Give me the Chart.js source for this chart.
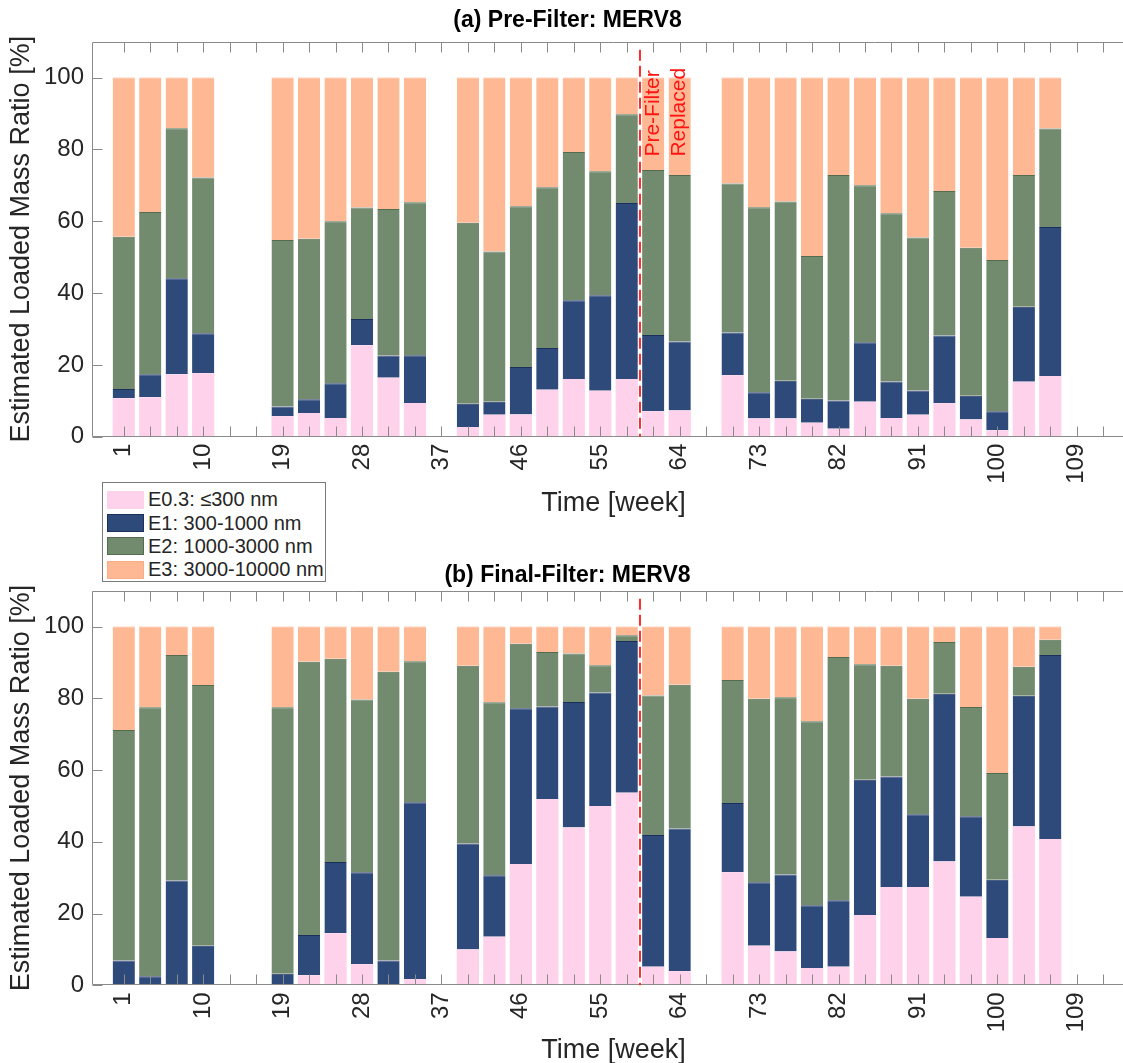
<!DOCTYPE html>
<html>
<head>
<meta charset="utf-8">
<script src="https://cdn.jsdelivr.net/npm/chart.js@4.4.1/dist/chart.umd.min.js"></script>
<style>
  body { margin: 0; background: #fff; overflow: hidden; }
  #wrap { position: relative; width: 1123px; height: 1063px; overflow: hidden; }
  canvas { position: absolute; left: 0; }
  #chartA { top: 0; }
  #chartB { top: 548px; }
  #legend {
    position: absolute; left: 102px; top: 482px; width: 224px; height: 100px;
    box-sizing: border-box; border: 1px solid #7a7a7a; background: #fff; z-index: 5;
    font-family: 'Liberation Sans', Arial, Helvetica, sans-serif; font-size: 20px; color: #262626;
    padding-top: 5px;
  }
  #legend .row { height: 23.4px; display: flex; align-items: center; }
  #legend .sw { width: 37px; height: 18px; margin-left: 4px; margin-right: 4px; box-sizing: border-box; }
</style>
</head>
<body>
<div id="wrap">
  <canvas id="chartA" width="1194" height="524"></canvas>
  <canvas id="chartB" width="1194" height="523"></canvas>
  <div id="legend"></div>
</div>
<script>
// sampling weeks (one bar every 3 weeks, gaps where no sample)
const weeks = [1, 4, 7, 10, 19, 22, 25, 28, 31, 34, 40, 43, 46, 49, 52, 55, 58, 61, 64,
  70, 73, 76, 79, 82, 85, 88, 91, 94, 97, 100, 103, 106];

// x tick marks and the labelled ones
const tickWeeks = [1, 4, 7, 10, 13, 16, 19, 22, 25, 28, 31, 34, 37, 40, 43, 46, 49, 52, 55,
  58, 61, 64, 67, 70, 73, 76, 79, 82, 85, 88, 91, 94, 97, 100, 103, 106, 109, 112];
const xTickLabels = [1, 10, 19, 28, 37, 46, 55, 64, 73, 82, 91, 100, 109];
const yTicks = [0, 20, 40, 60, 80, 100];

const seriesNames = ['E0.3: \u2264300 nm', 'E1: 300-1000 nm', 'E2: 1000-3000 nm', 'E3: 3000-10000 nm'];

// (a) pre-filter
const preE03 = [10.7, 11.0, 17.4, 17.7, 5.7, 6.6, 5.2, 25.5, 16.4, 9.4, 2.7, 6.1, 6.2, 13.1, 16.1, 12.8, 16.1, 7.1, 7.3,
  17.1, 5.1, 5.1, 3.9, 2.2, 9.7, 5.2, 6.1, 9.3, 4.8, 1.8, 15.3, 16.9];
const preE1 = [2.6, 6.4, 26.7, 11.1, 2.7, 3.8, 9.7, 7.3, 6.2, 13.3, 6.5, 3.6, 13.2, 11.6, 21.9, 26.6, 49.0, 21.2, 19.2,
  11.9, 7.3, 10.5, 6.7, 7.9, 16.6, 10.2, 6.8, 18.9, 6.6, 5.3, 20.9, 41.5];
const preE2 = [42.4, 45.2, 41.8, 43.4, 46.4, 44.7, 45.1, 31.0, 40.8, 42.6, 50.4, 41.9, 44.8, 44.8, 41.3, 34.5, 24.7, 46.0, 46.4,
  41.5, 51.5, 49.9, 39.7, 62.8, 43.7, 46.8, 42.6, 40.2, 41.2, 42.1, 36.7, 27.4];
const preE3 = [44.3, 37.4, 14.1, 27.8, 45.2, 44.9, 40.0, 36.2, 36.6, 34.7, 40.4, 48.4, 35.8, 30.5, 20.7, 26.1, 10.2, 25.7, 27.1,
  29.5, 36.1, 34.5, 49.7, 27.1, 30.0, 37.8, 44.5, 31.6, 47.4, 50.8, 27.1, 14.2];

// (b) final-filter
const finE03 = [0, 0, 0, 0, 0, 2.8, 14.5, 5.9, 0, 1.7, 10.0, 13.5, 33.8, 51.9, 44.0, 50.0, 53.7, 5.2, 3.9,
  31.5, 11.0, 9.4, 4.8, 5.2, 19.6, 27.4, 27.4, 34.5, 24.7, 13.2, 44.3, 40.8];
const finE1 = [6.9, 2.5, 29.2, 11.0, 3.2, 11.2, 19.9, 25.6, 6.9, 49.3, 29.5, 17.2, 43.4, 25.8, 35.0, 31.6, 42.3, 36.7, 39.8,
  19.3, 17.7, 21.5, 17.5, 18.5, 37.7, 30.8, 20.3, 46.8, 22.4, 16.2, 36.4, 51.3];
const finE2 = [64.3, 75.0, 62.9, 72.7, 74.3, 76.2, 56.6, 48.2, 80.5, 39.3, 49.6, 48.2, 18.0, 15.2, 13.5, 7.6, 1.6, 38.9, 40.1,
  34.3, 51.2, 49.4, 51.3, 67.8, 32.2, 30.9, 32.2, 14.4, 30.5, 29.8, 8.1, 4.2];
const finE3 = [28.8, 22.5, 7.9, 16.3, 22.5, 9.8, 9.0, 20.3, 12.6, 9.7, 10.9, 21.1, 4.8, 7.1, 7.5, 10.8, 2.4, 19.2, 16.2,
  14.9, 20.1, 19.7, 26.4, 8.5, 10.5, 10.9, 20.1, 4.3, 22.4, 40.8, 11.2, 3.7];

// pre-filter replacement marker
const replaceWeek = 59.5;
const noteLines = ['Pre-Filter', 'Replaced'];
const noteWeeks = [61, 64];
const noteStartY = 78;

const fillColors = ['rgb(255,210,236)', 'rgb(46,74,122)', 'rgb(114,138,110)', 'rgb(255,184,148)'];
const edgeColors = ['rgb(255,210,236)', 'rgb(28,48,92)', 'rgb(82,108,80)', 'rgb(255,172,134)'];

Chart.defaults.font.family = "'Liberation Sans', Arial, Helvetica, sans-serif";
Chart.defaults.color = '#262626';

// box, inward ticks, red dashed line (+ note on the top panel)
const framePlugin = {
  id: 'frame',
  afterDatasetsDraw(chart, args, opts) {
    const ctx = chart.ctx;
    const a = chart.chartArea;
    const xs = chart.scales.x, ys = chart.scales.y;
    ctx.save();
    ctx.strokeStyle = '#8a8a8a';
    ctx.lineWidth = 1;
    ctx.beginPath();
    const L = Math.round(a.left) + 0.5, T = Math.round(a.top) + 0.5, B = Math.round(a.bottom) - 0.5;
    ctx.moveTo(a.right, T); ctx.lineTo(L, T); ctx.lineTo(L, B); ctx.lineTo(a.right, B);
    tickWeeks.forEach(w => {
      const px = Math.round(xs.getPixelForValue(w)) + 0.5;
      ctx.moveTo(px, B); ctx.lineTo(px, B - 10);
      ctx.moveTo(px, T); ctx.lineTo(px, T + 10);
    });
    yTicks.forEach(v => {
      const py = Math.round(ys.getPixelForValue(v)) + 0.5;
      ctx.moveTo(L, py); ctx.lineTo(L + 10, py);
    });
    ctx.stroke();

    // replacement line
    const rx = xs.getPixelForValue(replaceWeek);
    ctx.strokeStyle = 'rgb(255,45,45)';
    ctx.lineWidth = 2;
    ctx.setLineDash([11, 5]);
    ctx.beginPath();
    ctx.moveTo(rx, a.top + 8);
    ctx.lineTo(rx, a.bottom);
    ctx.stroke();
    ctx.setLineDash([]);

    if (opts.note) {
      ctx.fillStyle = 'rgb(255,20,20)';
      ctx.font = "21px 'Liberation Sans', Arial, sans-serif";
      ctx.textAlign = 'left';
      ctx.textBaseline = 'middle';
      noteLines.forEach((t, i) => {
        ctx.save();
        ctx.translate(xs.getPixelForValue(noteWeeks[i]), ys.getPixelForValue(noteStartY));
        ctx.rotate(-Math.PI / 2);
        ctx.fillText(t, 0, 0);
        ctx.restore();
      });
    }
    ctx.restore();
  }
};

function makeChart(canvasId, titleText, titlePad, xAxisHeight, series, note) {
  const datasets = series.map((vals, k) => ({
    label: seriesNames[k],
    data: weeks.map((w, i) => ({x: w, y: vals[i]})),
    backgroundColor: fillColors[k],
    borderColor: edgeColors[k],
    borderWidth: k === 0 ? 0 : {top: 1, left: 0, right: 0, bottom: 0},
    barPercentage: 0.84,
    categoryPercentage: 1.0
  }));

  return new Chart(document.getElementById(canvasId), {
    type: 'bar',
    data: {datasets: datasets},
    options: {
      responsive: false,
      animation: false,
      devicePixelRatio: 1,
      // the axes run past the right edge of the figure, as in the original
      layout: {padding: {left: 0, top: 0, bottom: 0, right: 59}},
      plugins: {
        legend: {display: false},
        tooltip: {enabled: false},
        title: {
          display: true, text: titleText, color: '#000',
          font: {size: 23, weight: 'bold'}, padding: titlePad
        },
        frame: {note: note}
      },
      scales: {
        x: {
          type: 'linear', stacked: true, offset: false, min: -2.6, max: 115.6,
          grid: {display: false, drawTicks: false},
          border: {display: false},
          afterBuildTicks: s => { s.ticks = tickWeeks.map(v => ({value: v})); },
          afterFit: s => {
            s.height = xAxisHeight;
            // no extra side padding for the rotated labels
            s.paddingLeft = 0;
            s.paddingRight = 0;
          },
          ticks: {
            autoSkip: false, minRotation: 90, maxRotation: 90, padding: 7,
            font: {size: 24},
            callback: v => xTickLabels.includes(v) ? String(v) : ''
          },
          title: {display: true, text: 'Time [week]', font: {size: 27}, padding: {top: 4, bottom: 3.8}}
        },
        y: {
          stacked: true, min: 0, max: 110,
          grid: {display: false, drawTicks: false},
          border: {display: false},
          afterBuildTicks: s => { s.ticks = yTicks.map(v => ({value: v})); },
          afterFit: s => { s.width = 92; },
          ticks: {padding: 8, font: {size: 24}},
          title: {
            display: true, text: 'Estimated Loaded Mass Ratio [%]',
            font: {size: 27}, padding: {top: 5.3, bottom: 0}
          }
        }
      }
    },
    plugins: [framePlugin]
  });
}

makeChart('chartA', '(a) Pre-Filter: MERV8', {top: 7.2, bottom: 6.9}, 87.3,
  [preE03, preE1, preE2, preE3], true);
makeChart('chartB', '(b) Final-Filter: MERV8', {top: 13.7, bottom: 1.4}, 85.7,
  [finE03, finE1, finE2, finE3], false);

// legend between the panels
const legend = document.getElementById('legend');
seriesNames.forEach((name, k) => {
  const row = document.createElement('div');
  row.className = 'row';
  const sw = document.createElement('span');
  sw.className = 'sw';
  sw.style.background = fillColors[k];
  sw.style.border = '1px solid ' + edgeColors[k];
  const txt = document.createElement('span');
  txt.textContent = name;
  row.appendChild(sw);
  row.appendChild(txt);
  legend.appendChild(row);
});
</script>
</body>
</html>
